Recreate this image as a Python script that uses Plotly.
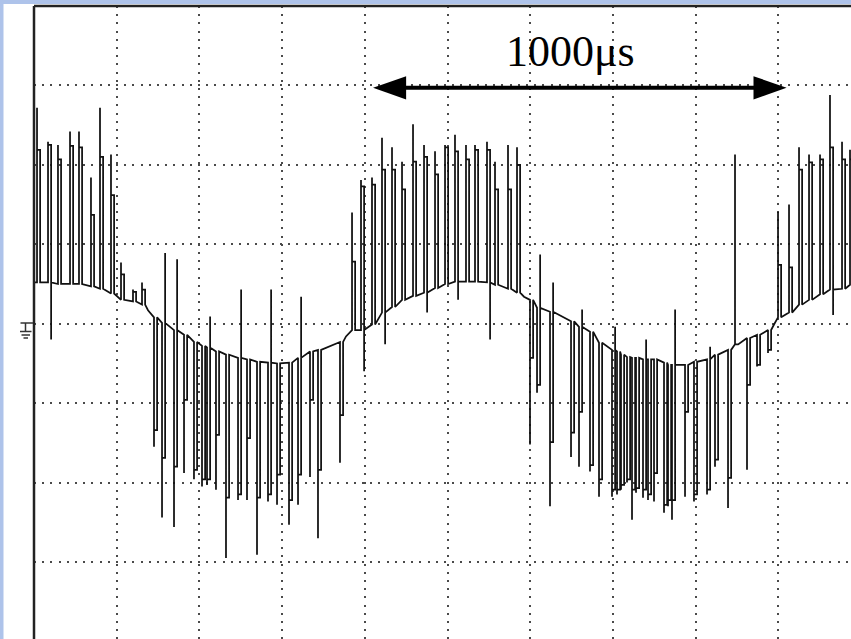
import plotly.graph_objects as go

# ---- scope settings -------------------------------------------------------
US_PER_DIV = 200          # horizontal scale, microseconds per division
X_END = 1975.8            # visible time window (us)
Y_LOW, Y_HIGH = -3.97, 4.0  # visible vertical window (divisions)

# ---- baseline knots (time in us, level in div) ----------------------------
knot_t = [0.0, 275.7, 754.5, 1185.0, 1789.6]
knot_v = [0.52, 0.17, -0.16, 0.34, -0.01]

# ---- switching pulses: time, overshoot tip, plateau, baseline, edge kick --
pulse_t = [
    7.3, 33.9, 58.0, 87.1, 108.8, 137.8, 159.6, 186.2, 210.4, 239.4, 261.2,
    290.2, 309.6, 338.6, 362.8, 386.9, 406.3, 418.4, 440.1, 464.3, 493.4,
    515.1, 539.3, 565.9, 587.7, 616.7, 638.5, 667.5, 686.8, 740.0,
    769.1, 790.8, 817.4, 841.6, 865.8, 890.0, 916.6, 943.2, 969.8, 994.0,
    1018.1, 1044.7, 1066.5, 1095.5, 1114.9, 1146.3, 1168.1,
    1199.5, 1216.5, 1247.9, 1298.7, 1318.0, 1344.6, 1366.4, 1397.8, 1409.9,
    1419.6, 1434.1, 1446.2, 1455.9, 1472.8, 1484.9, 1499.4, 1523.6, 1533.3,
    1542.9, 1574.4, 1596.1, 1627.6, 1646.9, 1678.4, 1695.3, 1724.3, 1748.5,
    1775.1,
    1799.3, 1825.9, 1850.1, 1874.3, 1900.9, 1925.0, 1954.1, 1973.4,
]
pulse_tip = [
    2.72, 2.29, 2.25, 2.42, 2.42, 1.84, 2.72, 2.13, 0.77, 0.43, 0.52,
    -1.55, -2.44, -2.56, -1.88, -1.96, -2.05, -2.03, -2.09, -2.95, -2.22,
    -2.22, -2.91, -2.24, -2.28, -2.53, -2.28, -1.93, -2.70, -1.75,
    1.40, 1.81, 1.84, 2.34, 2.22, 2.04, 2.51, 2.25, 2.17, 2.25,
    2.38, 2.25, 2.25, 2.29, 2.04, 2.25, 2.22,
    -1.52, -0.87, -2.30, -1.68, -1.80, -1.86, -2.18, -2.18, -2.15,
    -2.09, -2.00, -2.47, -2.13, -2.19, -2.22, -2.24, -2.38, -2.30,
    -2.47, -2.18, -2.24, -2.15, -1.80, -2.32, 2.13, -1.84, -0.54,
    -0.37,
    1.41, 1.50, 2.22, 2.13, 2.13, 2.88, 2.29, 2.19,
]
pulse_flat = [
    2.19, 2.25, 2.07, 2.24, 2.22, 1.37, 2.10, 1.62, 0.62, 0.40, 0.43,
    -1.34, -1.69, -1.80, -0.96, -1.84, -1.96, -1.96, -1.40, -2.19, -2.15,
    -1.44, -2.19, -2.15, -1.90, -2.22, -1.90, -0.96, -1.84, -1.15,
    0.78, 1.73, 1.75, 1.94, 1.94, 1.69, 2.04, 2.10, 1.88, 2.22,
    2.17, 2.07, 2.19, 2.19, 1.69, 1.69, 2.00,
    -0.43, -0.77, -1.49, -1.37, -1.11, -1.78, -1.96, -2.09, -2.09,
    -2.03, -1.96, -2.09, -2.07, -2.09, -2.15, -1.88, -2.28, -2.22,
    -2.22, -1.11, -2.15, -2.09, -1.71, -1.94, -0.26, -0.77, -0.52,
    -0.33,
    0.74, 0.71, 1.94, 2.03, 2.07, 2.22, 2.07, 2.07,
]
pulse_base = [
    0.52, 0.52, 0.50, 0.50, 0.50, 0.47, 0.44, 0.38, 0.30, 0.28, 0.24,
    0.08, 0.01, -0.08, -0.14, -0.23, -0.28, -0.30, -0.35, -0.39, -0.43,
    -0.45, -0.48, -0.49, -0.50, -0.49, -0.43, -0.35, -0.33, -0.23,
    -0.08, -0.08, -0.01, 0.14, 0.21, 0.30, 0.35, 0.39, 0.45, 0.50,
    0.53, 0.53, 0.53, 0.52, 0.49, 0.44, 0.39,
    0.30, 0.20, 0.15, 0.03, -0.04, -0.10, -0.24, -0.33, -0.35,
    -0.39, -0.42, -0.43, -0.43, -0.45, -0.45, -0.45, -0.49, -0.52,
    -0.52, -0.52, -0.48, -0.45, -0.39, -0.33, -0.26, -0.18, -0.14,
    -0.08,
    0.08, 0.14, 0.24, 0.30, 0.37, 0.43, 0.44, 0.49,
]
pulse_kick = [
    None, -0.20, None, None, None, None, None, None, None, None, None,
    None, 0.89, 0.81, None, None, None, 0.09, None, None, 0.43,
    None, None, 0.43, None, None, 0.34, None, None, None,
    None, -0.60, None, -0.26, None, None, None, 0.14, None, None,
    0.30, None, None, -0.20, None, None, None,
    None, 0.87, 0.52, None, 0.18, None, None, -0.04, None,
    None, None, None, None, -0.20, None, None, None, None,
    0.18, None, None, -0.29, None, None, None, None, None,
    None,
    None, None, None, None, None, 0.11, None, None,
]
PULSE_WIDTH = 7.5  # us

# ---- annotation -----------------------------------------------------------
ARROW_START = 820.0
ARROW_SPAN = 1000.0
ARROW_LEVEL = 2.97
ARROW_LABEL = "1000μs"

# ---- build the stepped trace ----------------------------------------------
events = [(t, "knot", i) for i, t in enumerate(knot_t)]
events += [(t, "pulse", i) for i, t in enumerate(pulse_t)]
events.sort(key=lambda e: e[0])

xs, ys = [], []
for t, kind, i in events:
    if kind == "knot":
        xs.append(t); ys.append(knot_v[i])
        continue
    b, tip, flat, kick = pulse_base[i], pulse_tip[i], pulse_flat[i], pulse_kick[i]
    t2 = t + PULSE_WIDTH
    xs += [t, t, t, t2]
    ys += [b, tip, flat, flat]
    if kick is not None:
        xs.append(t2); ys.append(kick)
    xs.append(t2); ys.append(b)

fig = go.Figure()
fig.add_trace(go.Scatter(
    x=xs, y=ys, mode="lines",
    line=dict(color="#111111", width=1.75),
    hoverinfo="skip", showlegend=False,
))

W, H = 851, 639
ML, MT = 34, 6
PW, PH = W - ML, H - MT


def px(x):
    return (x - ML) / PW


def py(y):
    return (H - y) / PH


shapes = []
# light blue border strips
shapes.append(dict(type="rect", xref="paper", yref="paper",
                   x0=px(0), x1=1, y0=py(4), y1=py(0),
                   fillcolor="#aec3ea", line=dict(width=0), layer="above"))
shapes.append(dict(type="rect", xref="paper", yref="paper",
                   x0=px(0), x1=px(3.5), y0=0, y1=py(0),
                   fillcolor="#aec3ea", line=dict(width=0), layer="above"))
# screen frame (top and left)
shapes.append(dict(type="line", xref="paper", yref="paper",
                   x0=0, x1=1, y0=1, y1=1,
                   line=dict(color="#222222", width=2.5), layer="above"))
shapes.append(dict(type="line", xref="paper", yref="paper",
                   x0=0, x1=0, y0=0, y1=1,
                   line=dict(color="#222222", width=2.5), layer="above"))
# ground reference marker
gcol = dict(color="#333333", width=1.5)
for (x0, y0, x1, y1) in [(20.5, 323, 33, 323), (25.5, 323, 25.5, 331.5),
                         (20, 331.5, 31.5, 331.5), (21.5, 335, 30, 335),
                         (23.5, 338, 28, 338)]:
    shapes.append(dict(type="line", xref="paper", yref="paper",
                       x0=px(x0), x1=px(x1), y0=py(y0), y1=py(y1), line=gcol))

# double-headed time arrow
head_len = 80.0
head_half = 0.147
a0, a1 = ARROW_START, ARROW_START + ARROW_SPAN
shapes.append(dict(type="line", xref="x", yref="y",
                   x0=a0 + head_len * 0.9, x1=a1 - head_len * 0.9,
                   y0=ARROW_LEVEL, y1=ARROW_LEVEL,
                   line=dict(color="black", width=4)))
shapes.append(dict(type="path", xref="x", yref="y",
                   path=f"M {a0},{ARROW_LEVEL} L {a0 + head_len},{ARROW_LEVEL + head_half} "
                        f"L {a0 + head_len},{ARROW_LEVEL - head_half} Z",
                   fillcolor="black", line=dict(width=0)))
shapes.append(dict(type="path", xref="x", yref="y",
                   path=f"M {a1},{ARROW_LEVEL} L {a1 - head_len},{ARROW_LEVEL + head_half} "
                        f"L {a1 - head_len},{ARROW_LEVEL - head_half} Z",
                   fillcolor="black", line=dict(width=0)))

fig.add_annotation(
    x=a0 + ARROW_SPAN / 2, y=3.43, xref="x", yref="y", xshift=-9,
    text=ARROW_LABEL, showarrow=False, xanchor="center", yanchor="middle",
    font=dict(family="Liberation Serif, Times New Roman, serif", size=44, color="black"),
)

grid = dict(showgrid=True, gridcolor="#4a4a4a", gridwidth=1.6, griddash="2px,6.2px",
            zeroline=False, showline=False, showticklabels=False, ticks="",
            fixedrange=True)
fig.update_layout(
    width=W, height=H,
    margin=dict(l=ML, r=0, t=MT, b=0, pad=0),
    paper_bgcolor="white", plot_bgcolor="white",
    xaxis=dict(range=[0, X_END], tick0=0, dtick=US_PER_DIV, **grid),
    yaxis=dict(range=[Y_LOW, Y_HIGH], tick0=0, dtick=1, **grid),
    shapes=shapes,
    showlegend=False,
)
fig.write_html("out.html", config={"displayModeBar": False})
